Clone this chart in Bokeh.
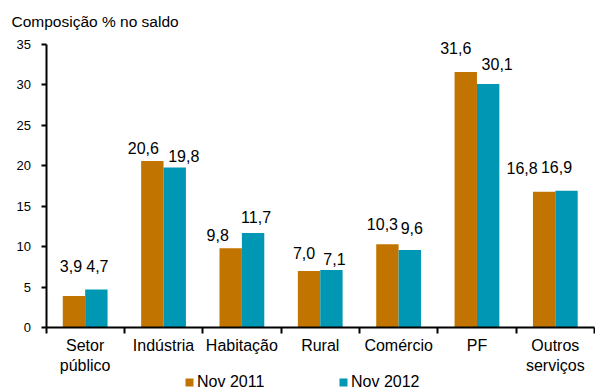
from bokeh.plotting import figure
from bokeh.models import ColumnDataSource, FixedTicker, Legend, LegendItem, Label
from bokeh.core.properties import value
from bokeh.embed import file_html
from bokeh.resources import INLINE

# Composição % do saldo por setor
categories = ["Setor\npúblico", "Indústria", "Habitação", "Rural", "Comércio", "PF", "Outros\nserviços"]
nov_2011 = [3.9, 20.6, 9.8, 7.0, 10.3, 31.6, 16.8]
nov_2012 = [4.7, 19.8, 11.7, 7.1, 9.6, 30.1, 16.9]
series_names = ["Nov 2011", "Nov 2012"]
y_ticks = [0, 5, 10, 15, 20, 25, 30, 35]
title_text = "Composição % no saldo"

ORANGE = "#C27400"
TEAL = "#0097B4"
FONT = "Liberation Sans"

W, H = 595, 391
n = len(categories)
y_max = 35
centers = [i + 0.5 for i in range(n)]
bar_w = 0.2857

# plot area in canvas pixels: axes drawn at fixed data locations inside one frame
ax_left, ax_right, ax_top, ax_bottom = 45.5, 594.0, 44.0, 327.0
px_x = (ax_right - ax_left) / n
px_y = (ax_bottom - ax_top) / y_max
x_lo = -ax_left / px_x
x_hi = n + (W - ax_right) / px_x
y_lo = -(H - ax_bottom) / px_y
y_hi = y_max + ax_top / px_y

# label nudges in px (x right, gap above bar top)
lab_dx_2011 = [-3, -9, -13, -5, -5, -10, -22]
lab_gap_2011 = [24, 7, 7, 12, 14, 18, 18]
lab_dx_2012 = [1, 9, 3, 3, 2, 9, -10]
lab_gap_2012 = [17, 5, 10, 5, 16, 14, 18]

def fmt(v):
    return f"{v:.1f}".replace(".", ",")

src_a = ColumnDataSource(dict(
    x=[c - bar_w / 2 for c in centers], top=nov_2011,
    label=[fmt(v) for v in nov_2011], dx=lab_dx_2011, dy=[-g for g in lab_gap_2011]))
src_b = ColumnDataSource(dict(
    x=[c + bar_w / 2 for c in centers], top=nov_2012,
    label=[fmt(v) for v in nov_2012], dx=lab_dx_2012, dy=[-g for g in lab_gap_2012]))

p = figure(width=W, height=H, x_range=(x_lo, x_hi), y_range=(y_lo, y_hi),
           output_backend="svg", toolbar_location=None, min_border=0)
p.frame_width = W
p.frame_height = H
p.outline_line_color = None
p.grid.visible = False
p.background_fill_color = "white"
p.border_fill_color = "white"

r_a = p.vbar(x="x", top="top", bottom=0, width=bar_w, source=src_a, fill_color=ORANGE, line_color=None)
r_b = p.vbar(x="x", top="top", bottom=0, width=bar_w, source=src_b, fill_color=TEAL, line_color=None)

for src in (src_a, src_b):
    p.text(x="x", y="top", text="label", source=src, x_offset="dx", y_offset="dy",
           text_align="center", text_baseline="bottom",
           text_font=value(FONT), text_font_size="16px", text_color="black")

# y axis, pinned at x = 0
yax = p.yaxis[0]
yax.fixed_location = 0
yax.bounds = (0, y_max)
yax.ticker = FixedTicker(ticks=y_ticks)
yax.axis_line_width = 2
yax.axis_line_color = "black"
yax.major_tick_in = 0
yax.major_tick_out = 5
yax.major_tick_line_width = 2
yax.major_tick_line_color = "black"
yax.minor_tick_line_color = None
yax.major_label_text_font = FONT
yax.major_label_text_font_size = "13px"
yax.major_label_text_color = "black"
yax.major_label_standoff = 10

# x axis at y = 0: labels at category centres, tick marks at boundaries
xax = p.xaxis[0]
xax.fixed_location = 0
xax.bounds = (0, n)
xax.ticker = FixedTicker(ticks=centers, minor_ticks=list(range(n + 1)))
xax.major_label_overrides = {c: lab for c, lab in zip(centers, categories)}
xax.axis_line_width = 2
xax.axis_line_color = "black"
xax.major_tick_line_color = None
xax.major_tick_in = 0
xax.major_tick_out = 6
xax.minor_tick_in = 0
xax.minor_tick_out = 6
xax.minor_tick_line_width = 2
xax.minor_tick_line_color = "black"
xax.major_label_text_font = FONT
xax.major_label_text_font_size = "16px"
xax.major_label_text_color = "black"
xax.major_label_standoff = 3

p.add_layout(Label(x=11, y=H - 21, x_units="screen", y_units="screen", text=title_text,
                   text_font=FONT, text_font_size="15.5px", text_color="black",
                   text_baseline="middle", text_align="left"))

legend = Legend(items=[LegendItem(label=series_names[0], renderers=[r_a]),
                       LegendItem(label=series_names[1], renderers=[r_b])],
                location=(184, 0), orientation="horizontal",
                glyph_width=10, glyph_height=10, label_standoff=3, label_width=141,
                label_height=14, spacing=0, padding=0, margin=0,
                label_text_font=FONT, label_text_font_size="16px",
                label_text_color="black",
                border_line_color=None, background_fill_alpha=0)
p.add_layout(legend, "center")

open("out.html", "w").write(file_html(p, INLINE))
